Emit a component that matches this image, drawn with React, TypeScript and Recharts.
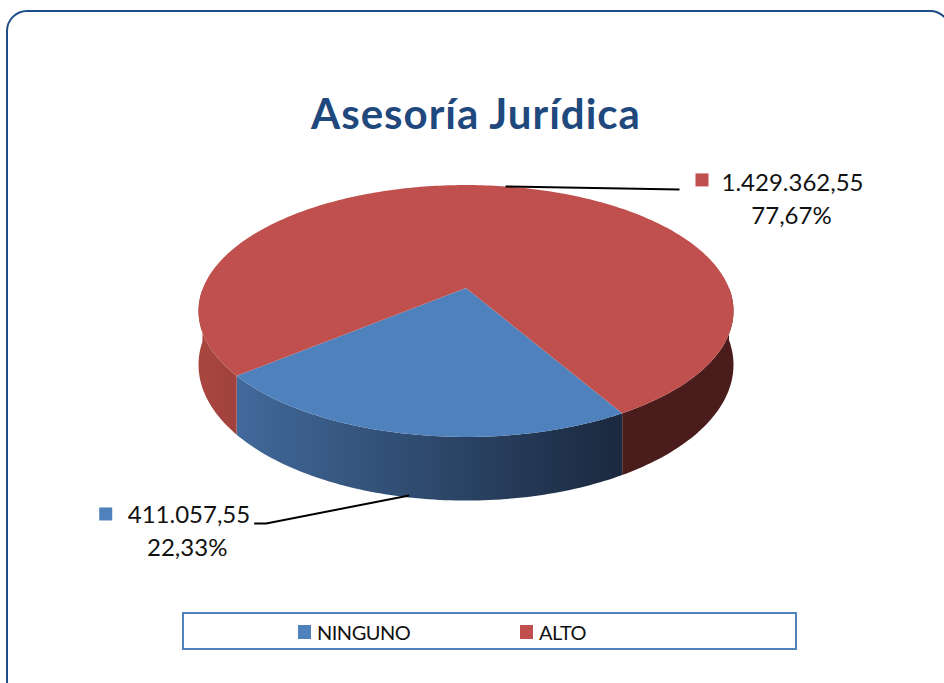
import React from 'react'
import { PieChart, Pie, Legend } from 'recharts'

const categories = ['NINGUNO', 'ALTO']
const values = [411057.55, 1429362.55]
const colors = ['#4f81bd', '#c0504d']
const sideLight = ['#456fa3', '#a8453f']
const sideDark = ['#1b2a40', '#4a1c1c']

const data = categories.map((name, i) => ({ name, value: values[i] }))

const W = 944
const H = 683
const CX = 466
const CY = 288
const R = 263
// fake 3d: vertical squash, perspective and wall depth
const TILT = 0.463
const PERSP = 0.1825
const DEPTH = 52
const RAD = Math.PI / 180
const FONT = 'Lato, "Open Sans", sans-serif'

type P = { x: number, y: number, k: number }

function proj(cx: number, cy: number, r: number, deg: number): P {
  const u = Math.cos(deg * RAD)
  const v = -Math.sin(deg * RAD)
  const k = 1 / (1 - PERSP * v)
  return { x: cx + r * u * k, y: cy + r * TILT * v * k, k }
}

function fmtES(n: number) {
  const [i, d] = n.toFixed(2).split('.')
  return i.replace(/\B(?=(\d{3})+(?!\d))/g, '.') + ',' + d
}

function Slice3D(props: any) {
  const { cx, cy, outerRadius, startAngle, endAngle, midAngle, index, percent, value } = props
  const n = Math.max(2, Math.ceil(Math.abs(endAngle - startAngle)))
  const steps: number[] = []
  for (let s = 0; s <= n; s++) steps.push(startAngle + (endAngle - startAngle) * s / n)
  const rim = steps.map(a => proj(cx, cy, outerRadius, a))
  const top = `M${cx},${cy} ` + rim.map(p => `L${p.x},${p.y}`).join(' ') + ' Z'

  const walls: string[] = []
  let run: P[] = []
  const flush = () => {
    if (run.length > 1) {
      const up = run.map(p => `${p.x},${p.y}`)
      const down = run.slice().reverse().map(p => `${p.x},${p.y + DEPTH * p.k}`)
      walls.push('M' + up.concat(down).join(' L') + ' Z')
    }
    run = []
  }
  steps.forEach((a, j) => {
    if (Math.sin(a * RAD) <= 1e-9) run.push(rim[j])
    else flush()
  })
  flush()

  const m = proj(cx, cy, outerRadius, midAngle)
  const front = Math.sin(midAngle * RAD) < 0
  const ax = m.x
  const ay = front ? m.y + DEPTH * m.k - 2 : m.y
  const right = Math.cos(midAngle * RAD) > 0
  const pct = (percent * 100).toFixed(2).replace('.', ',') + '%'
  const gid = `side-${index}`

  let label
  if (right) {
    const ex = ax + 174, ey = ay + 3
    label = (
      <g>
        <path d={`M${ax},${ay} L${ex},${ey}`} stroke="#000" strokeWidth={2} fill="none" />
        <rect x={ex + 16} y={ey - 16} width={13} height={13} fill={colors[index]} />
        <text x={ex + 42} y={ey + 2} fontSize={24} fontFamily={FONT} fill="#111">{fmtES(value)}</text>
        <text x={ex + 112} y={ey + 35} fontSize={24} fontFamily={FONT} fill="#111" textAnchor="middle">{pct}</text>
      </g>
    )
  } else {
    const ex = ax - 143, ey = ay + 28
    label = (
      <g>
        <path d={`M${ax},${ay} L${ex},${ey} L${ex - 12},${ey}`} stroke="#000" strokeWidth={2} fill="none" />
        <rect x={ex - 167} y={ey - 16} width={13} height={13} fill={colors[index]} />
        <text x={ex - 16} y={ey} fontSize={24} fontFamily={FONT} fill="#111" textAnchor="end">{fmtES(value)}</text>
        <text x={ex - 79} y={ey + 33} fontSize={24} fontFamily={FONT} fill="#111" textAnchor="middle">{pct}</text>
      </g>
    )
  }

  return (
    <g>
      <defs>
        <linearGradient id={gid} gradientUnits="userSpaceOnUse" x1={cx - outerRadius} y1={0} x2={cx + outerRadius} y2={0}>
          <stop offset="0" stopColor={sideLight[index]} />
          <stop offset="0.78" stopColor={sideDark[index]} />
          <stop offset="1" stopColor={sideDark[index]} />
        </linearGradient>
      </defs>
      {walls.map((d, j) => <path key={j} d={d} fill={`url(#${gid})`} />)}
      <path d={top} fill={colors[index]} />
      {label}
    </g>
  )
}

function LegendBox() {
  return (
    <div style={{
      width: 615, height: 38, boxSizing: 'border-box', border: '2px solid #4f81bd',
      position: 'relative', fontFamily: FONT, fontSize: 20, letterSpacing: -0.5, color: '#111', background: '#fff',
    }}>
      {categories.map((c, i) => (
        <div key={c} style={{ position: 'absolute', left: i === 0 ? 114 : 336, top: 4, display: 'flex', alignItems: 'center', height: 28 }}>
          <span style={{ display: 'inline-block', width: 13, height: 14, background: colors[i], marginRight: 6 }} />
          <span>{c}</span>
        </div>
      ))}
    </div>
  )
}

export default function App() {
  return (
    <div style={{ position: 'absolute', left: 0, top: 0, width: W, height: H, background: '#fff', overflow: 'hidden' }}>
      <svg width={W} height={H} style={{ position: 'absolute', left: 0, top: 0 }}>
        <rect x={7} y={11} width={943} height={690} rx={20} ry={20} fill="#fff" stroke="#1f4e86" strokeWidth={2} />
        <text x={476} y={129} textAnchor="middle" fontFamily={FONT} fontWeight={700} fontSize={42} letterSpacing={1} fill="#1f497d">
          Asesoría Jurídica
        </text>
      </svg>
      <div style={{ position: 'absolute', left: 0, top: 0 }}>
        <PieChart width={W} height={H} margin={{ top: 0, right: 0, bottom: 0, left: 0 }}>
          <Pie
            data={data}
            dataKey="value"
            nameKey="name"
            cx={CX}
            cy={CY}
            outerRadius={R}
            startAngle={-60}
            endAngle={-420}
            fill="none"
            stroke="none"
            label={Slice3D}
            labelLine={false}
            isAnimationActive={false}
          />
          <Legend
            content={() => <LegendBox />}
            wrapperStyle={{ left: 182, top: 612, bottom: 'auto', width: 615, height: 38 }}
          />
        </PieChart>
      </div>
    </div>
  )
}
